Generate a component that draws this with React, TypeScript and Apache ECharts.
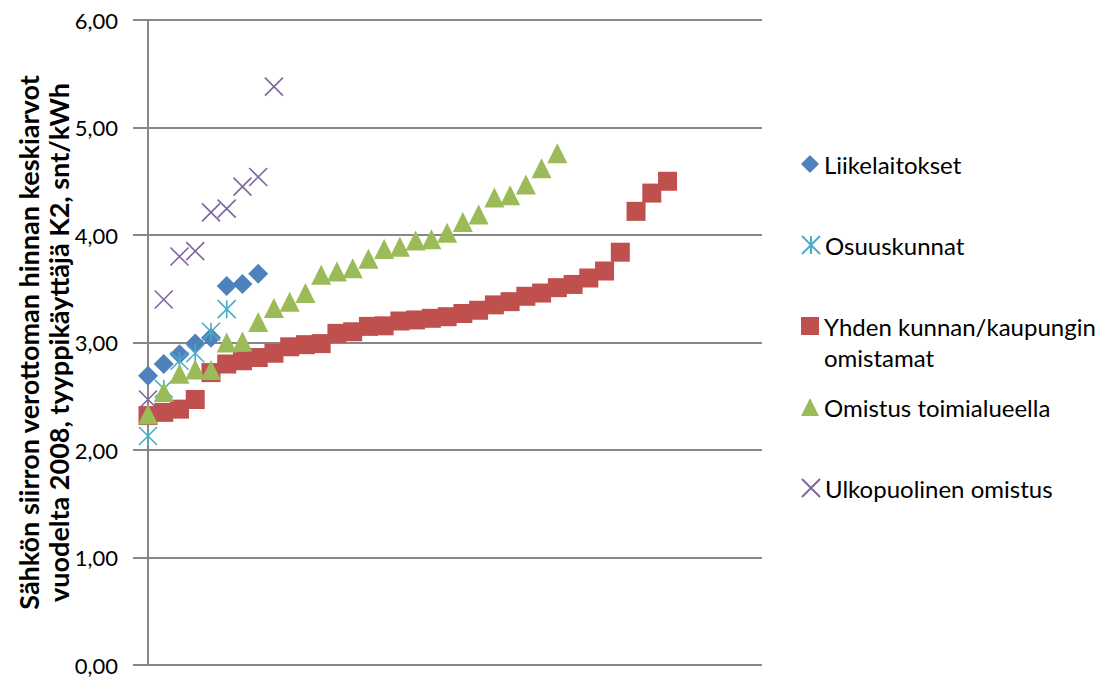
import React, { useEffect, useRef } from "react";
import * as echarts from "echarts";

const seriesNames = [
  "Liikelaitokset",
  "Osuuskunnat",
  "Yhden kunnan/kaupungin omistamat",
  "Omistus toimialueella",
  "Ulkopuolinen omistus",
];

const liikelaitokset = [2.69, 2.8, 2.89, 2.99, 3.045, 3.525, 3.545, 3.64];
const osuuskunnat = [2.13, 2.57, 2.83, 2.9, 3.1, 3.31];
const yhdenKunnan = [
  2.32, 2.35, 2.38, 2.47, 2.72, 2.8, 2.83, 2.86, 2.9, 2.96, 2.98, 2.99, 3.085,
  3.1, 3.15, 3.155, 3.2, 3.21, 3.225, 3.24, 3.27, 3.3, 3.35, 3.38, 3.43, 3.46,
  3.51, 3.54, 3.6, 3.665, 3.84, 4.22, 4.39, 4.5,
];
const omistusToimialueella = [
  2.33, 2.54, 2.71, 2.75, 2.745, 3.0, 3.01, 3.19, 3.32, 3.38, 3.46, 3.63, 3.66,
  3.69, 3.78, 3.87, 3.89, 3.95, 3.96, 4.02, 4.12, 4.19, 4.35, 4.37, 4.47, 4.62,
  4.76,
];
const ulkopuolinen = [2.47, 3.4, 3.8, 3.85, 4.21, 4.245, 4.45, 4.54, 5.38];

const colors = ["#4F81BD", "#4BACC6", "#C0504D", "#9BBB59", "#8064A2"];
const yTicks = [0, 1, 2, 3, 4, 5, 6];

const FONT = "Lato, 'Open Sans', sans-serif";
const X_SYM = "path://M0,0L10,10M10,0L0,10";
const STAR_SYM = "path://M5,0L5,10M0,0L10,10M10,0L0,10";

const toPoints = (arr: number[]) => arr.map((v, i) => [i, v]);

export default function App() {
  const ref = useRef<HTMLDivElement>(null);
  useEffect(() => {
    if (!ref.current) return;
    const chart = echarts.init(ref.current, undefined, { renderer: "svg" });
    const legendCenters = [164, 245, 326, 407, 488];
    const option: any = {
      animation: false,
      backgroundColor: "#ffffff",
      grid: {
        left: 148,
        right: 348,
        top: 20,
        bottom: 12,
        containLabel: false,
        outerBoundsMode: "none",
      },
      xAxis: {
        type: "value",
        min: 0,
        max: 39,
        show: false,
      },
      yAxis: {
        type: "value",
        min: yTicks[0],
        max: yTicks[yTicks.length - 1],
        interval: 1,
        axisLine: { show: true, lineStyle: { color: "#878787", width: 2 } },
        axisTick: { show: true, length: 15, lineStyle: { color: "#878787", width: 2 } },
        splitLine: { show: true, lineStyle: { color: "#878787", width: 2 } },
        axisLabel: {
          margin: 30,
          color: "#000",
          fontFamily: FONT,
          fontSize: 22,
          formatter: (v: number) => v.toFixed(2).replace(".", ","),
        },
        name:
          "Sähkön siirron verottoman hinnan keskiarvot\nvuodelta 2008, tyyppikäyttäjä K2, snt/kWh",
        nameLocation: "middle",
        nameRotate: 90,
        nameGap: 75,
        nameMoveOverlap: false,
        nameTextStyle: {
          color: "#000",
          fontFamily: FONT,
          fontWeight: "bold",
          fontSize: 27,
          lineHeight: 30,
        },
      },
      legend: seriesNames.map((n, i) => ({
        data: [n],
        orient: "vertical",
        left: 801,
        top: legendCenters[i] - 14,
        padding: 0,
        itemWidth: 18,
        itemHeight: 18,
        itemGap: 0,
        selectedMode: false,
        formatter: (name: string) =>
          name === "Yhden kunnan/kaupungin omistamat" ? "Yhden kunnan/kaupungin" : name,
        textStyle: { color: "#000", fontFamily: FONT, fontSize: 24, lineHeight: 28 },
      })),
      graphic: [
        {
          type: "text",
          left: 824,
          top: 357 - 14,
          style: {
            text: "omistamat",
            fill: "#000",
            font: "24px Lato, 'Open Sans', sans-serif",
            lineHeight: 28,
          },
        },
      ],
      series: [
        {
          name: seriesNames[0],
          type: "scatter",
          symbol: "diamond",
          symbolSize: 20,
          itemStyle: { color: colors[0], opacity: 1 },
          data: toPoints(liikelaitokset),
        },
        {
          name: seriesNames[1],
          type: "scatter",
          symbol: STAR_SYM,
          symbolSize: 18,
          itemStyle: { color: "transparent", borderColor: colors[1], borderWidth: 1.6, opacity: 1 },
          data: toPoints(osuuskunnat),
        },
        {
          name: seriesNames[2],
          type: "scatter",
          symbol: "rect",
          symbolSize: 19,
          itemStyle: { color: colors[2], opacity: 1 },
          data: toPoints(yhdenKunnan),
        },
        {
          name: seriesNames[3],
          type: "scatter",
          symbol: "triangle",
          symbolSize: [20, 20],
          itemStyle: { color: colors[3], opacity: 1 },
          data: toPoints(omistusToimialueella),
        },
        {
          name: seriesNames[4],
          type: "scatter",
          symbol: X_SYM,
          symbolSize: 18,
          itemStyle: { color: "transparent", borderColor: colors[4], borderWidth: 1.6, opacity: 1 },
          data: toPoints(ulkopuolinen),
        },
      ],
    };
    chart.setOption(option);
    return () => chart.dispose();
  }, []);
  return (
    <div
      ref={ref}
      style={{ position: "fixed", left: 0, top: 0, width: 1110, height: 677, background: "#fff" }}
    />
  );
}
